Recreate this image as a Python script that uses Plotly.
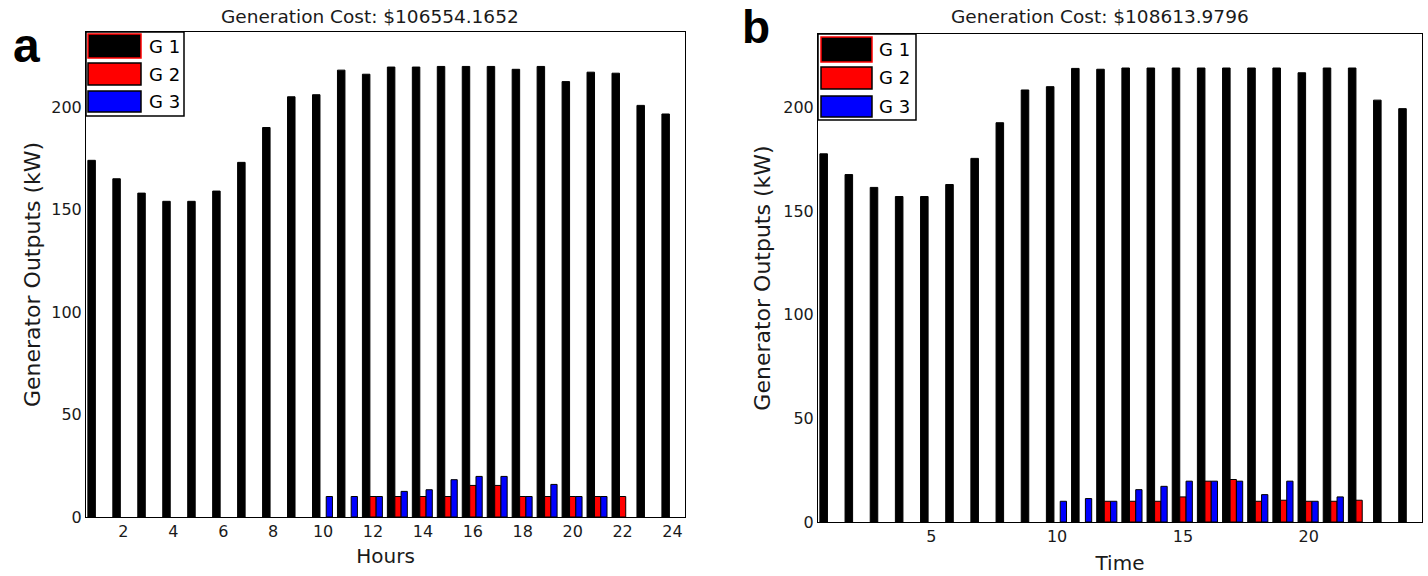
import plotly.graph_objects as go

hours = list(range(1, 25))

# Panel a (Hours)
a_g1 = [174, 165, 158, 154, 154, 159, 173, 190, 205, 206, 218, 216,
        219.5, 219.5, 219.8, 219.8, 219.8, 218.4, 219.8, 212.4, 217, 216.5, 200.8, 196.6]
a_g2 = [0, 0, 0, 0, 0, 0, 0, 0, 0, 0, 0, 10,
        10, 10, 10, 15.4, 15.4, 10, 10, 10, 10, 10, 0, 0]
a_g3 = [0, 0, 0, 0, 0, 0, 0, 0, 0, 10, 10, 10,
        12.5, 13.3, 18.2, 19.8, 19.8, 10, 15.9, 10, 10, 0, 0, 0]

# Panel b (Time)
b_g1 = [177.6, 167.6, 161.4, 157, 157, 162.8, 175.4, 192.6, 208.4, 210, 218.8, 218.4,
        219, 219, 219, 219, 219, 219, 219, 216.7, 219, 219, 203.5, 199.4]
b_g2 = [0, 0, 0, 0, 0, 0, 0, 0, 0, 0, 0, 10,
        10, 10, 12.1, 19.7, 20.5, 10, 10.5, 10, 10, 10.5, 0, 0]
b_g3 = [0, 0, 0, 0, 0, 0, 0, 0, 0, 10, 11.3, 10,
        15.6, 17.2, 19.7, 19.7, 19.7, 13.2, 19.7, 10, 12.1, 0, 0, 0]

titles = ["Generation Cost: $106554.1652", "Generation Cost: $108613.9796"]
series_names = ["G 1", "G 2", "G 3"]
colors = ["#000000", "#ff0000", "#0000ff"]
widths = [0.30, 0.25, 0.25]
offsets = [-0.425, -0.125, 0.125]

W, H = 1428, 576
FONT = "DejaVu Sans, Arial, Liberation Sans"
TXT = "#1a1a1a"


def px_x(p):
    return p / W


def px_y(p):
    return 1 - p / H


fig = go.Figure()

for data, xa, ya in [((a_g1, a_g2, a_g3), "x", "y"),
                     ((b_g1, b_g2, b_g3), "x2", "y2")]:
    for i, vals in enumerate(data):
        fig.add_trace(go.Bar(
            x=hours, y=[v if v else None for v in vals], name=series_names[i],
            marker=dict(color=colors[i], line=dict(color="#000000", width=1)),
            width=widths[i], offset=offsets[i],
            xaxis=xa, yaxis=ya, showlegend=False,
        ))

axis_common = dict(
    showline=True, linecolor="#000000", linewidth=1, mirror=True,
    showgrid=False, zeroline=False, ticks="", automargin=False,
    tickfont=dict(family=FONT, size=16, color=TXT),
)

shapes = []
annotations = []
legend_specs = [
    dict(box=(86, 184, 32, 116), sw=(88, 141), sy=[(34, 58), (63, 85), (91, 112)], tx=147),
    dict(box=(818, 916, 34, 120), sw=(821, 872), sy=[(37, 62), (67, 89), (96, 117)], tx=877),
]
for spec in legend_specs:
    bx0, bx1, by0, by1 = spec["box"]
    shapes.append(dict(type="rect", xref="paper", yref="paper",
                       x0=px_x(bx0), x1=px_x(bx1), y0=px_y(by1), y1=px_y(by0),
                       fillcolor="white", line=dict(color="#000000", width=1.5), layer="above"))
    for i, (sy0, sy1) in enumerate(spec["sy"]):
        shapes.append(dict(type="rect", xref="paper", yref="paper",
                           x0=px_x(spec["sw"][0]), x1=px_x(spec["sw"][1]),
                           y0=px_y(sy1), y1=px_y(sy0),
                           fillcolor=colors[i],
                           line=dict(color="#ff0000" if i == 0 else "#000000", width=1.5),
                           layer="above"))
        annotations.append(dict(text=series_names[i], x=px_x(spec["tx"]), y=px_y((sy0 + sy1) / 2),
                                xref="paper", yref="paper", showarrow=False,
                                xanchor="left", yanchor="middle",
                                font=dict(family=FONT, size=18, color="#000000")))

annotations += [
    dict(text=titles[0], x=px_x(370), y=px_y(16), xref="paper", yref="paper",
         showarrow=False, xanchor="center", yanchor="middle",
         font=dict(family=FONT, size=18.5, color=TXT)),
    dict(text=titles[1], x=px_x(1100), y=px_y(16), xref="paper", yref="paper",
         showarrow=False, xanchor="center", yanchor="middle",
         font=dict(family=FONT, size=18.5, color=TXT)),
    dict(text="<b>a</b>", x=px_x(26), y=px_y(45), xref="paper", yref="paper",
         showarrow=False, xanchor="center", yanchor="middle",
         font=dict(family="Liberation Sans, Arial", size=48, color="#000000")),
    dict(text="<b>b</b>", x=px_x(756), y=1, xref="paper", yref="paper",
         showarrow=False, xanchor="center", yanchor="top", borderpad=0,
         font=dict(family="Liberation Sans, Arial", size=46, color="#000000")),
]

fig.update_layout(
    width=W, height=H, autosize=False,
    margin=dict(l=0, r=0, t=0, b=0, autoexpand=False),
    paper_bgcolor="white", plot_bgcolor="white",
    barmode="overlay",
    showlegend=False,
    xaxis=dict(domain=[px_x(86), px_x(685)], range=[0.5, 24.5],
               tickvals=list(range(2, 25, 2)), anchor="y",
               title=dict(text="Hours", font=dict(family=FONT, size=20, color=TXT), standoff=8),
               **axis_common),
    yaxis=dict(domain=[px_y(517), px_y(32)], range=[0, 236.6],
               tickvals=[0, 50, 100, 150, 200], anchor="x",
               title=dict(text="Generator Outputs (kW)", font=dict(family=FONT, size=22, color=TXT), standoff=4),
               **axis_common),
    xaxis2=dict(domain=[px_x(818), px_x(1422)], range=[0.5, 24.5],
                tickvals=[5, 10, 15, 20], anchor="y2",
                title=dict(text="Time", font=dict(family=FONT, size=20, color=TXT), standoff=10),
                **axis_common),
    yaxis2=dict(domain=[px_y(522), px_y(34)], range=[0, 235.4],
                tickvals=[0, 50, 100, 150, 200], anchor="x2",
                title=dict(text="Generator Outputs (kW)", font=dict(family=FONT, size=22, color=TXT), standoff=6),
                **axis_common),
    shapes=shapes,
    annotations=annotations,
)

post = ("document.body.style.margin='0';document.body.style.overflow='hidden';"
        "document.documentElement.style.overflow='hidden';")

fig.write_html("out.html", post_script=post, config={"displayModeBar": False})
